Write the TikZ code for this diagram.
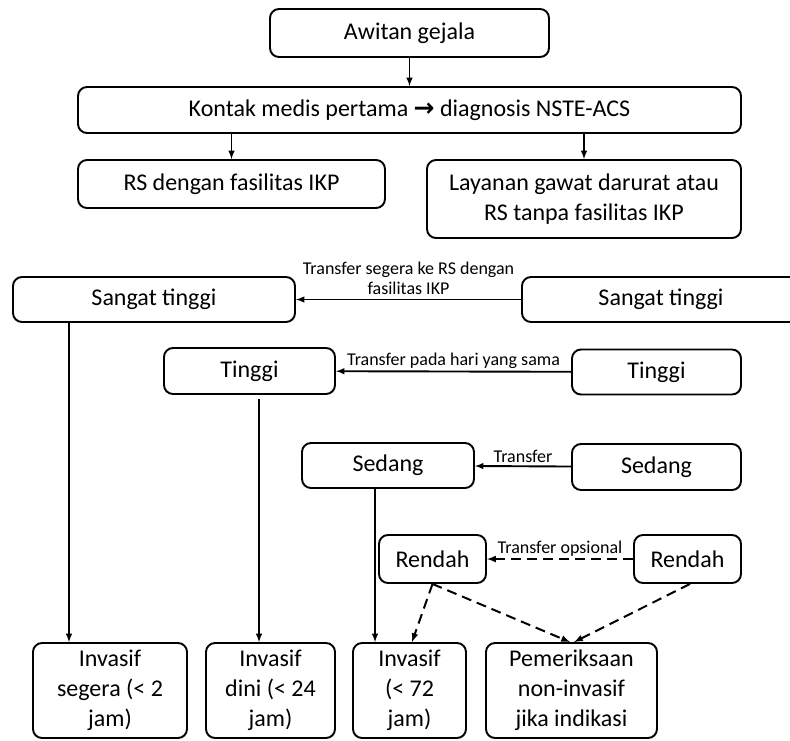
\documentclass[tikz,border=0pt]{standalone}
\usepackage{fontspec}
\setmainfont{Carlito}
\newfontfamily\arrowfont{DejaVu Sans}
\usetikzlibrary{arrows}

\begin{document}
\begin{tikzpicture}[x=1pt, y=-1pt,
        box/.style={draw, line width=1.9pt, rounded corners=9pt, align=center,
            inner sep=0pt, font=\fontsize{24}{30}\selectfont},
        lbl/.style={font=\fontsize{18}{20}\selectfont, inner sep=1pt, align=center},
        arr/.style={-latex, line width=1.9pt},
        dsh/.style={-latex, line width=2pt, dash pattern=on 10pt off 6pt}]
        \useasboundingbox (0,0) rectangle (790,740);

        % top part
        \node[box, minimum width=279pt, minimum height=48pt] (awitan) at (409.5,33) {Awitan gejala};
        \node[box, minimum width=663pt, minimum height=46pt] (kontak) at (409.5,110)
            {Kontak medis pertama {\arrowfont\bfseries\fontsize{25}{24}\selectfont →} diagnosis NSTE-ACS};
        \node[box, minimum width=307pt, minimum height=48pt] (rsikp) at (231.5,184) {RS dengan fasilitas IKP};
        \node[box, minimum width=314pt, minimum height=78pt] (layanan) at (584,199)
            {Layanan gawat darurat atau\\RS tanpa fasilitas IKP};

        \draw[arr] (awitan) -- (kontak);
        \draw[arr] (kontak.south -| rsikp.north) -- (rsikp);
        \draw[arr] (kontak.south -| layanan.north) -- (layanan);

        % risk levels
        \node[box, minimum width=282pt, minimum height=45pt] (stL) at (154,299.5) {Sangat tinggi};
        \node[box, minimum width=278pt, minimum height=45pt] (stR) at (661,299.5) {Sangat tinggi};
        \node[box, minimum width=171pt, minimum height=46pt] (tgL) at (249.5,371) {Tinggi};
        \node[box, minimum width=169pt, minimum height=45pt] (tgR) at (656.5,372) {Tinggi};
        \node[box, minimum width=172pt, minimum height=45pt] (sdL) at (388,465.5) {Sedang};
        \node[box, minimum width=169pt, minimum height=46pt] (sdR) at (656.5,467) {Sedang};
        \node[box, minimum width=107pt, minimum height=48pt] (rdL) at (432.5,559) {Rendah};
        \node[box, minimum width=107pt, minimum height=48pt] (rdR) at (687.5,559) {Rendah};

        \draw[arr] (stR) -- node[lbl, above=3pt] {Transfer segera ke RS dengan\\fasilitas IKP} (stL);
        \draw[arr] (tgR) -- node[lbl, above=1pt] {Transfer pada hari yang sama} (tgL);
        \draw[arr] (sdR) -- node[lbl, above=2pt] {Transfer} (sdL);
        \draw[dsh] (rdR) -- node[lbl, above=1pt] {Transfer opsional} (rdL);

        % strategies
        \node[box, minimum width=154pt, minimum height=95pt] (inv1) at (110,690.5) {Invasif\\segera (< 2\\jam)};
        \node[box, minimum width=129pt, minimum height=95pt] (inv2) at (270.5,690.5) {Invasif\\dini (< 24\\jam)};
        \node[box, minimum width=113pt, minimum height=95pt] (inv3) at (409.5,690.5) {Invasif\\(< 72\\jam)};
        \node[box, minimum width=171pt, minimum height=95pt] (nonin) at (571.5,690.5) {Pemeriksaan\\non-invasif\\jika indikasi};

        \draw[arr] ([xshift=-85pt]stL.south) -- ([xshift=-85pt]stL.south |- inv1.north);
        \draw[arr] ([xshift=9.5pt,yshift=-4pt]tgL.south) -- ([xshift=9.5pt]tgL.south |- inv2.north);
        \draw[arr] ([xshift=-13pt]sdL.south) -- ([xshift=-13pt]sdL.south |- inv3.north);
        \draw[dsh] (rdL.south) -- ([xshift=2.5pt]inv3.north);
        \draw[dsh] (rdL.south) -- ([xshift=-1.5pt]nonin.north);
        \draw[dsh] ([xshift=2.5pt]rdR.south) -- ([xshift=2.5pt]nonin.north);
\end{tikzpicture}
\end{document}
